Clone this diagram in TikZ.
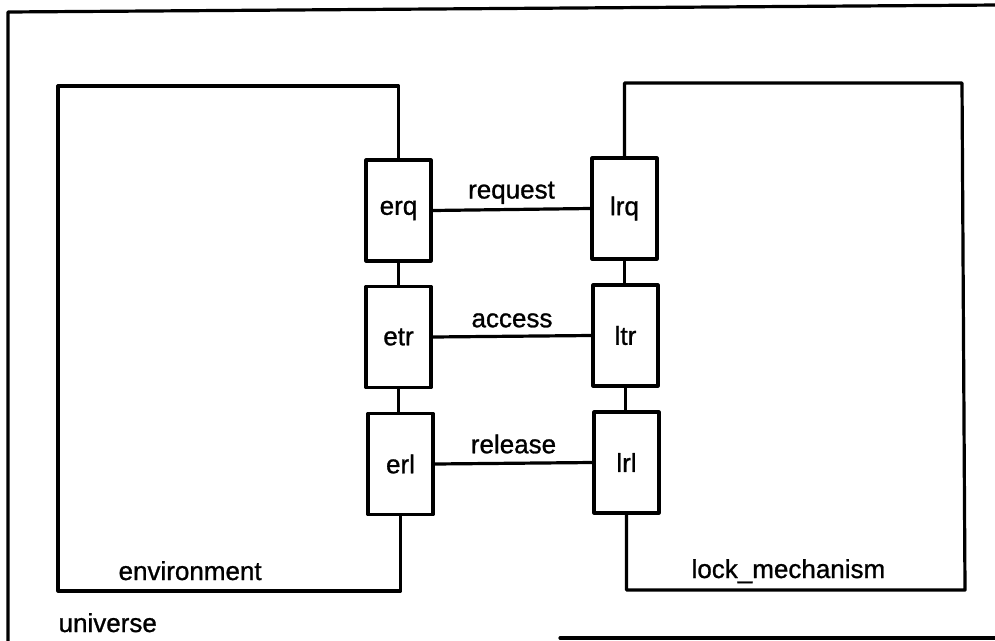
\documentclass[tikz,border=0pt]{standalone}
\usepackage{fontspec}
\setmainfont{Liberation Sans}
\newfontfamily\scanfont[FakeBold=1]{Liberation Sans}
\begin{document}
\begin{tikzpicture}[x=1pt,y=-1pt,
  line width=3.2pt, line cap=round, line join=round,
  port/.style={draw, rectangle, minimum width=65pt, minimum height=101pt, inner sep=0pt, font=\scanfont\fontsize{26}{30}\selectfont},
  lbl/.style={inner sep=0pt, text depth=0pt, anchor=base, font=\scanfont\fontsize{26}{30}\selectfont},
  titletext/.style={inner sep=0pt, text depth=0pt, anchor=base west, font=\scanfont\fontsize{26}{30}\selectfont}]
\useasboundingbox (0,0) rectangle (995,640);
% universe
\coordinate (uTL) at (8,12);
\coordinate (uTR) at (998,5);
\coordinate (uBL) at (8,642);
\coordinate (uBa) at (560,638);
\coordinate (uBb) at (998,638);
\draw (uBL) -- (uTL) -- (uTR);
\draw (uBa) -- (uBb);
\node[titletext] (universe) at (57,632) {universe};
% ports
\node[port] (erq) at (398.5,210.5) {erq};
\node[port] (etr) at (398.5,337) {etr};
\node[port] (erl) at (400.5,464) {erl};
\node[port] (lrq) at (624.5,208.5) {lrq};
\node[port] (ltr) at (625.5,335.5) {ltr};
\node[port] (lrl) at (626.5,462.5) {lrl};
% environment
\coordinate (eTL) at (58,86);
\coordinate (eBL) at (58,591);
\draw (erq.north) |- (eTL) -- (eBL) -| (erl.south);
\draw (erq.south) -- (erq.south |- etr.north);
\draw (etr.south) -- (etr.south |- erl.north);
\node[titletext] (envname) at (117,580) {environment};
% lock mechanism
\coordinate (lTR) at (962,83);
\coordinate (lBR) at (965,590);
\draw (lrq.north) |- (lTR) -- (lBR) -| (lrl.south);
\draw (lrq.south) -- (lrq.south |- ltr.north);
\draw (ltr.south) -- (ltr.south |- lrl.north);
\node[titletext] (lockname) at (690,578) {lock\_mechanism};
% channels
\draw (erq.east) -- node[lbl, yshift=11pt] (request) {request} (lrq.west);
\draw (etr.east) -- node[lbl, yshift=9pt] (access) {access} (ltr.west);
\draw (erl.east) -- node[lbl, yshift=10pt] (release) {release} (lrl.west);
\end{tikzpicture}
\end{document}
